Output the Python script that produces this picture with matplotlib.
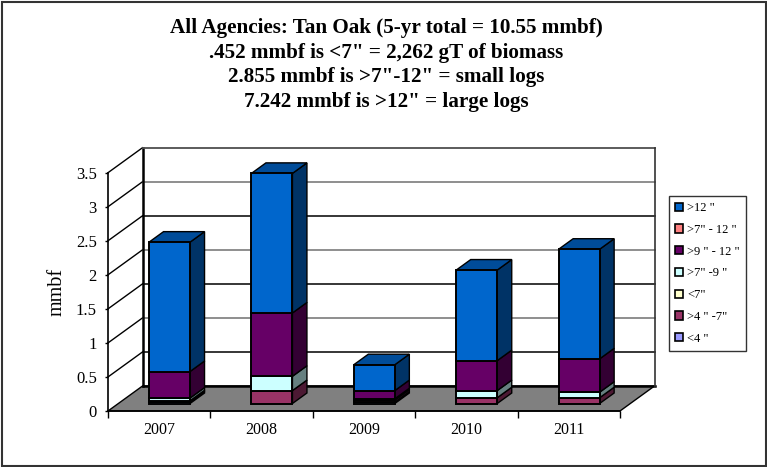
import matplotlib
matplotlib.use('Agg')
import matplotlib.pyplot as plt
from matplotlib.patches import Patch, Rectangle, Polygon

plt.rcParams['font.family'] = ['Liberation Serif', 'DejaVu Serif']

years = ['2007', '2008', '2009', '2010', '2011']
under4 = [0.02, 0.0, 0.02, 0.0, 0.0]
from4to7 = [0.02, 0.19, 0.03, 0.085, 0.085]
under7 = [0.0, 0.0, 0.0, 0.0, 0.0]
from7to9 = [0.04, 0.21, 0.02, 0.105, 0.081]
from9to12 = [0.39, 0.93, 0.12, 0.44, 0.49]
from7to12 = [0.0, 0.0, 0.0, 0.0, 0.0]
over12 = [1.90, 2.05, 0.38, 1.33, 1.61]

series = [
    ('<4 "', under4, '#9999FF', '#4C4C80'),
    ('>4 " -7"', from4to7, '#993366', '#4C1933'),
    ('<7"', under7, '#FFFFCC', '#808066'),
    ('>7" -9 "', from7to9, '#CCFFFF', '#668080'),
    ('>9 " - 12 "', from9to12, '#660066', '#330033'),
    ('>7" - 12 "', from7to12, '#FF8080', '#804040'),
    ('>12 "', over12, '#0066CC', '#003366'),
]
top_color = {'#0066CC': '#004C99'}

title = ('All Agencies: Tan Oak (5-yr total = 10.55 mmbf)\n'
         '.452 mmbf is <7" = 2,262 gT of biomass\n'
         '2.855 mmbf is >7"-12" = small logs\n'
         '7.242 mmbf is >12" = large logs')

W, H = 767, 467
fig = plt.figure(figsize=(W / 100, H / 100), dpi=100)

# outer frame of the slide
fig.add_artist(Rectangle((2 / W, 1 - 465.5 / H), 764 / W, 463.5 / H, transform=fig.transFigure,
                         fill=False, ec='#333333', lw=1.5))

# axes = front plane of the fake 3d box
ax = fig.add_axes([108 / W, 1 - 411 / H, 512 / W, 238.3 / H])
ax.set_xlim(-0.5, 4.5)
ax.set_ylim(0, 3.5)
ax.patch.set_visible(False)
for s in ax.spines.values():
    s.set_visible(False)

# depth of the box, in data units
DX = 34.5 / 102.4
DY = 25 / 68.1
BAR_D0 = 0.30
BAR_D1 = 0.72
BAR_W = 41 / 102.4


def shifted(x, y, d):
    return x + d * DX, y + d * DY


# floor and walls
floor = [shifted(-0.5, 0, 0), shifted(4.5, 0, 0), shifted(4.5, 0, 1), shifted(-0.5, 0, 1)]
ax.add_patch(Polygon(floor, fc='#808080', ec='black', lw=1, clip_on=False, zorder=1))
wall = [shifted(-0.5, 0, 1), shifted(-0.5, 3.5, 1), shifted(4.5, 3.5, 1), shifted(4.5, 0, 1)]
ax.add_patch(Polygon(wall, fc='white', ec='none', clip_on=False, zorder=0))
ticks = [0, 0.5, 1, 1.5, 2, 2.5, 3, 3.5]
for t in ticks[1:]:
    col = 'black' if t in (0.5, 1.5, 2.5) else '#707070'
    x0, y0 = shifted(-0.5, t, 1)
    x1, y1 = shifted(4.5, t, 1)
    ax.plot([-0.5, x0], [t, y0], color='black', lw=1, clip_on=False, zorder=1)
    ax.plot([x0, x1], [y0, y1], color=col, lw=1.1, clip_on=False, zorder=1)
x0, y0 = shifted(-0.5, 0, 1)
x1, y1 = shifted(-0.5, 3.5, 1)
x2, y2 = shifted(4.5, 3.5, 1)
x3, y3 = shifted(4.5, 0, 1)
ax.plot([x0, x1], [y0, y1], color='black', lw=1.8, clip_on=False, zorder=2)
ax.plot([x0, x3], [y0, y3], color='black', lw=1.8, clip_on=False, zorder=2)
ax.plot([x1, x2], [y1, y2], color='#555555', lw=1.2, clip_on=False, zorder=2)
ax.plot([x2, x3], [y2, y3], color='#333333', lw=1.2, clip_on=False, zorder=2)
ax.plot([-0.5, -0.5], [0, 3.5], color='black', lw=1.2, clip_on=False, zorder=2)
ax.plot([-0.5, 4.5], [0, 0], color='black', lw=1.2, clip_on=False, zorder=2)

# stacked bars, side faces under the front ones
for i in range(len(years)):
    base = 0
    xc, yb = shifted(i, 0, BAR_D0)
    left = xc - BAR_W / 2
    right = xc + BAR_W / 2
    for name, vals, col, dark in series:
        v = vals[i]
        if v == 0:
            continue
        y0_ = yb + base
        y1_ = yb + base + v
        side = [(right, y0_), shifted(right, y0_, BAR_D1 - BAR_D0),
                shifted(right, y1_, BAR_D1 - BAR_D0), (right, y1_)]
        ax.add_patch(Polygon(side, fc=dark, ec='black', lw=1, clip_on=False, zorder=3))
        ax.bar(xc, v, BAR_W, bottom=y0_, color=col, edgecolor='black', linewidth=1.4,
               clip_on=False, zorder=4)
        base += v
        last = col
    ytop = yb + base
    top = [(left, ytop), (right, ytop), shifted(right, ytop, BAR_D1 - BAR_D0),
           shifted(left, ytop, BAR_D1 - BAR_D0)]
    ax.add_patch(Polygon(top, fc=top_color[last], ec='black', lw=1, clip_on=False, zorder=3))

ax.set_xticks([-0.5, 0.5, 1.5, 2.5, 3.5, 4.5])
ax.set_xticklabels([])
ax.set_xticks(range(5), years, minor=True, fontsize=11.5)
ax.tick_params(axis='x', which='major', length=5, width=1, direction='out')
ax.tick_params(axis='x', which='minor', length=0, pad=8)
ax.set_yticks(ticks)
ax.set_yticklabels(['0', '0.5', '1', '1.5', '2', '2.5', '3', '3.5'], fontsize=12)
ax.tick_params(axis='y', length=2, width=1, pad=6)
ax.set_ylabel('mmbf', fontsize=14.5, labelpad=7)

fig.text(386 / W, 1 - 65 / H, title, ha='center', va='center', fontsize=15.2,
         fontweight='bold', linespacing=1.31)

handles = [Patch(fc=col, ec='black', lw=1.2, label=name) for name, vals, col, dark in reversed(series)]
fig.legend(handles=handles, loc='upper left', bbox_to_anchor=(669 / W, 1 - 196 / H), fontsize=9,
           frameon=True, fancybox=False, edgecolor='#333333', framealpha=1, borderpad=0.5,
           handlelength=0.64, handleheight=0.64, handletextpad=0.33, labelspacing=0.78,
           borderaxespad=0)

fig.savefig('out.png', dpi=100)
